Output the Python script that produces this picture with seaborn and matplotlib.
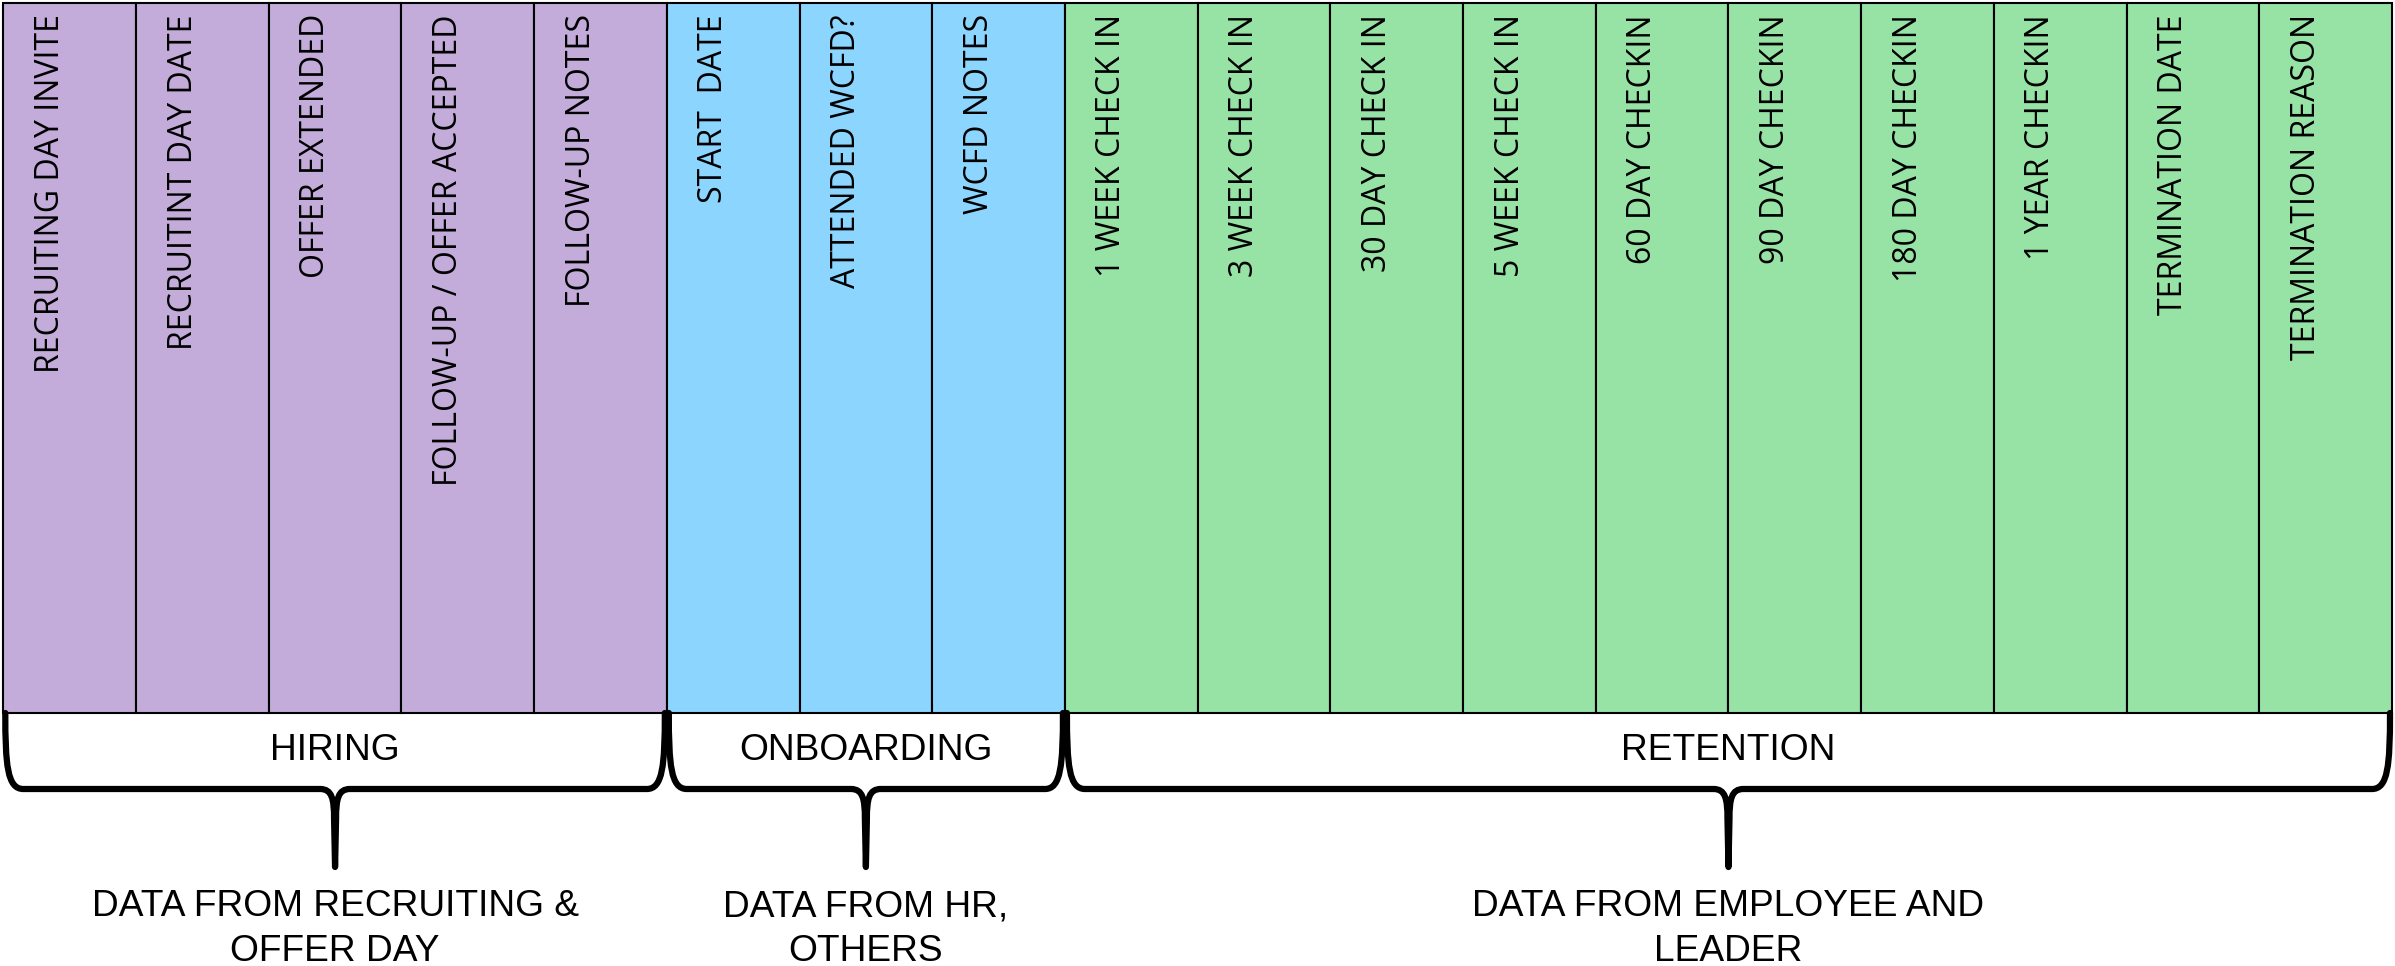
import numpy as np
import pandas as pd
import matplotlib.pyplot as plt
import seaborn as sns
from matplotlib.path import Path
from matplotlib.patches import PathPatch
from matplotlib.transforms import Affine2D

# columns of the data sheet, in order
fields = ["RECRUITING DAY INVITE", "RECRUITINT DAY DATE", "OFFER EXTENDED",
          "FOLLOW-UP / OFFER ACCEPTED", "FOLLOW-UP NOTES",
          "START  DATE", "ATTENDED WCFD?", "WCFD NOTES",
          "1 WEEK CHECK IN", "3 WEEK CHECK IN", "30 DAY CHECK IN", "5 WEEK CHECK IN",
          "60 DAY CHECKIN", "90 DAY CHECKIN", "180 DAY CHECKIN", "1 YEAR CHECKIN",
          "TERMINATION DATE", "TERMINATION REASON"]
groups = ["HIRING"] * 5 + ["ONBOARDING"] * 3 + ["RETENTION"] * 10
group_names = ["HIRING", "ONBOARDING", "RETENTION"]
sources = ["DATA FROM RECRUITING &\nOFFER DAY", "DATA FROM HR,\nOTHERS",
           "DATA FROM EMPLOYEE AND\nLEADER"]
group_colors = {"HIRING": "#c3abda", "ONBOARDING": "#8cd5fe", "RETENTION": "#97e2a5"}

df = pd.DataFrame({"field": fields, "group": groups, "filled": 1})

W, H = 2395, 966
sns.set_style("white")
plt.rcParams['font.family'] = ['Open Sans', 'DejaVu Sans']
plt.rcParams['text.color'] = 'black'

fig = plt.figure(figsize=(W / 100, H / 100), dpi=100)
ax = fig.add_axes([0, 0, 1, 1])

sns.barplot(data=df, x="field", y="filled", hue="group", palette=group_colors,
            dodge=False, width=1, saturation=1, edgecolor="black", linewidth=1.5,
            legend=False, ax=ax)

# layout: cells span px 3.3..2392 horizontally, 2.7..712.7 vertically
col_w = (2392 - 3.3) / 18
top_px, bot_px = 2.7, 712.7
unit = bot_px - top_px
ax.set_xlim(-0.5 - 3.3 / col_w, -0.5 + (W - 3.3) / col_w)
ax.set_ylim(-(H - bot_px) / unit, 1 + top_px / unit)
ax.axis("off")

for i, name in enumerate(fields):
    ax.text(i - 0.5 + 47 / col_w, 1 - (14 - top_px) / unit, name, rotation=90,
            ha="center", va="top", fontsize=23, color="black",
            family=["Open Sans", "DejaVu Sans"])

# pixel transform (origin top-left) for the braces and their labels
pix = Affine2D().scale(1 / W, -1 / H).translate(0, 1) + fig.transFigure


def x_px(x):
    return ax.transData.transform((x, 0))[0]


def brace(L, R, y_top=713, y_h=789, y_tip=867):
    c = (L + R) / 2
    verts = [(L + 2, y_top), (L + 2, 765), (L + 4, y_h), (L + 20, y_h),
             (c - 15, y_h),
             (c - 3, y_h), (c - 1, y_h + 10), (c - 1, y_h + 30),
             (c, y_tip),
             (c + 1, y_h + 30),
             (c + 1, y_h + 10), (c + 3, y_h), (c + 15, y_h),
             (R - 20, y_h),
             (R - 4, y_h), (R - 2, 765), (R - 2, y_top)]
    codes = ([Path.MOVETO] + [Path.CURVE4] * 3 + [Path.LINETO] + [Path.CURVE4] * 3
             + [Path.LINETO, Path.LINETO] + [Path.CURVE4] * 3 + [Path.LINETO]
             + [Path.CURVE4] * 3)
    return PathPatch(Path(verts, codes), fill=False, lw=4.5, ec="black",
                     capstyle="round", joinstyle="round", transform=pix)


for gname, src in zip(group_names, sources):
    idx = [i for i, g in enumerate(groups) if g == gname]
    L = x_px(idx[0] - 0.5)
    R = x_px(idx[-1] + 0.5)
    c = (L + R) / 2
    ax.add_patch(brace(L, R))
    ax.text(c, 751, gname, ha="center", va="center", fontsize=26.7, color="black",
            family=["Liberation Sans", "DejaVu Sans"], transform=pix)
    ax.text(c, 929, src, ha="center", va="center", fontsize=26.7, color="black",
            linespacing=1.37, family=["Liberation Sans", "DejaVu Sans"], transform=pix)

fig.savefig("out.png", dpi=100)
